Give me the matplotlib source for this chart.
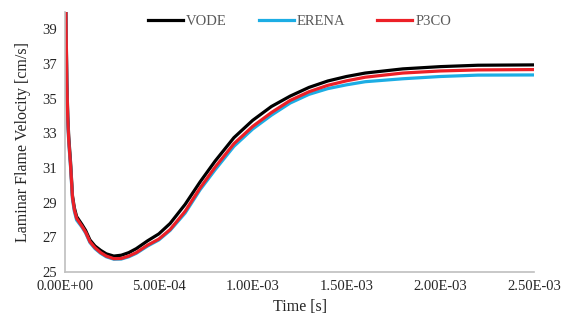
import matplotlib.pyplot as plt
from matplotlib.ticker import FuncFormatter, MultipleLocator, FixedLocator

# time [s] and laminar flame velocity [cm/s]
time_s = [0, 5e-6, 1e-5, 1.5e-5, 2e-5, 3e-5, 4e-5, 5e-5, 6.2e-5, 9e-5,
          1.1e-4, 1.33e-4, 1.6e-4, 1.9e-4, 2.2e-4, 2.6e-4, 3e-4, 3.4e-4, 3.8e-4, 4.4e-4,
          5e-4, 5.6e-4, 6.4e-4, 7.2e-4, 8e-4, 9e-4, 1e-3, 1.1e-3, 1.2e-3, 1.3e-3,
          1.4e-3, 1.5e-3, 1.6e-3, 1.8e-3, 2e-3, 2.2e-3, 2.5e-3]
vode = [44, 40, 36, 34, 32.8, 31.3, 29.4, 28.7, 28.2, 27.75,
        27.4, 26.85, 26.5, 26.25, 26.05, 25.92, 25.97, 26.12, 26.35, 26.8,
        27.2, 27.8, 28.9, 30.2, 31.4, 32.75, 33.75, 34.55, 35.15, 35.65,
        36.02, 36.28, 36.48, 36.72, 36.85, 36.93, 36.95]
erena = [44, 39.6, 35.6, 33.6, 32.5, 31.0, 29.2, 28.5, 28.0, 27.6,
         27.25, 26.7, 26.35, 26.08, 25.88, 25.74, 25.75, 25.88, 26.08, 26.5,
         26.85, 27.4, 28.4, 29.75, 30.9, 32.25, 33.25, 34.05, 34.75, 35.25,
         35.58, 35.8, 35.98, 36.15, 36.28, 36.36, 36.37]
p3co = [44, 39.8, 35.8, 33.8, 32.6, 31.1, 29.3, 28.6, 28.1, 27.65,
        27.3, 26.75, 26.4, 26.12, 25.92, 25.77, 25.78, 25.92, 26.12, 26.55,
        26.9, 27.45, 28.5, 29.85, 31.05, 32.4, 33.4, 34.2, 34.9, 35.4,
        35.77, 36.03, 36.24, 36.48, 36.6, 36.66, 36.68]
y_ticks = [25, 27, 29, 31, 33, 35, 37, 39]

plt.rcParams["font.family"] = ["Liberation Serif", "DejaVu Serif"]

fig = plt.figure(figsize=(5.67, 3.25), dpi=100)
ax = fig.add_axes([0.1146, 0.163, 0.8275, 0.8])

ax.plot(time_s, vode, color="black", lw=2.3, label="VODE")
ax.plot(time_s, erena, color="#1CADE4", lw=2.3, label="ERENA")
ax.plot(time_s, p3co, color="#EC2027", lw=2.3, label="P3CO")

ax.set_xlim(0, 2.5e-3)
ax.set_ylim(25, 40)
ax.xaxis.set_major_locator(MultipleLocator(5e-4))
ax.yaxis.set_major_locator(FixedLocator(y_ticks))
ax.xaxis.set_major_formatter(FuncFormatter(lambda v, p: f"{v:.2E}"))
ax.tick_params(length=0, labelsize=10.5, labelcolor="#262626", pad=6)

for side in ["top", "right"]:
    ax.spines[side].set_visible(False)
for side in ["left", "bottom"]:
    ax.spines[side].set_color("#bfbfbf")
    ax.spines[side].set_linewidth(1.2)

ax.set_xlabel("Time [s]", fontsize=11.5, color="#262626", labelpad=4)
ax.set_ylabel("Laminar Flame Velocity [cm/s]", fontsize=11.5, color="#262626", labelpad=8)

ax.legend(loc="upper center", bbox_to_anchor=(0.5, 1.04), ncol=3, frameon=False,
          fontsize=10.5, handlelength=2.4, columnspacing=2.2, handletextpad=0.2,
          labelcolor="#595959")

fig.savefig("out.png")
